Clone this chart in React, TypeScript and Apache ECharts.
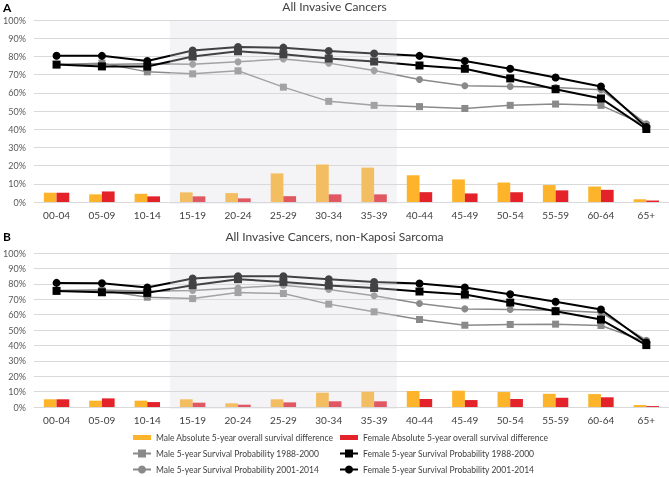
import React, { useEffect, useRef } from "react";
import * as echarts from "echarts";

const ageGroups = ["00-04", "05-09", "10-14", "15-19", "20-24", "25-29", "30-34", "35-39", "40-44", "45-49", "50-54", "55-59", "60-64", "65+"];
const yTicks = [0, 10, 20, 30, 40, 50, 60, 70, 80, 90, 100];

// Panel A: All Invasive Cancers
const maleDiffA = [5.1, 4.2, 4.5, 5.3, 4.9, 15.7, 20.6, 18.9, 14.7, 12.4, 10.7, 9.3, 8.5, 1.5];
const femaleDiffA = [5.1, 5.8, 3.1, 3.1, 2.0, 3.2, 4.2, 4.2, 5.4, 4.7, 5.4, 6.4, 6.7, 0.8];
const male1988A = [75.5, 76.3, 71.5, 70.4, 72.1, 63.1, 55.3, 53.1, 52.4, 51.4, 53.1, 53.8, 53.1, 42.0];
const female1988A = [75.5, 74.5, 74.4, 79.9, 82.8, 81.2, 78.8, 77.2, 75.0, 73.2, 67.9, 62.0, 56.9, 40.1];
const male2001A = [75.6, 75.5, 76.0, 75.7, 77.0, 78.6, 76.3, 72.2, 67.3, 63.9, 63.5, 62.9, 61.7, 43.0];
const female2001A = [80.4, 80.3, 77.5, 83.2, 85.2, 84.8, 83.0, 81.6, 80.3, 77.5, 73.2, 68.4, 63.5, 41.2];

// Panel B: All Invasive Cancers, non-Kaposi Sarcoma
const maleDiffB = [5.0, 4.1, 4.1, 5.0, 2.4, 5.0, 9.3, 9.9, 10.4, 10.6, 9.7, 8.6, 8.4, 1.3];
const femaleDiffB = [5.0, 5.6, 3.2, 2.8, 1.5, 3.0, 3.7, 3.7, 5.2, 4.5, 5.2, 6.0, 6.3, 0.6];
const male1988B = [75.5, 75.8, 71.3, 70.4, 74.3, 73.7, 66.8, 61.8, 56.8, 53.1, 53.6, 53.8, 52.9, 42.3];
const female1988B = [75.4, 74.5, 74.1, 79.1, 83.0, 81.2, 78.9, 77.3, 75.0, 73.0, 67.8, 62.2, 56.8, 40.2];
const male2001B = [75.6, 76.0, 75.2, 75.6, 77.3, 79.1, 76.3, 72.2, 67.2, 63.7, 63.3, 62.9, 61.4, 43.4];
const female2001B = [80.6, 80.4, 77.6, 83.4, 84.9, 84.9, 83.0, 81.2, 80.2, 77.6, 73.2, 68.3, 63.3, 41.9];

// shaded age range (first and last category index) and its value span
const shadedRange = [[3, 100, 7, 0]];

const seriesNames = [
  "Male Absolute 5-year overall survival difference",
  "Female Absolute 5-year overall survival difference",
  "Male 5-year Survival Probability 1988-2000",
  "Female 5-year Survival Probability 1988-2000",
  "Male 5-year Survival Probability 2001-2014",
  "Female 5-year Survival Probability 2001-2014",
];

const FONT = "Lato";
const ORANGE = "#FDB42A";
const RED = "#E3222A";
const GREY = "#8a8a8a";
const BLACK = "#000000";
const BAR_ICON = "path://M0,0H36V10H0Z";

function panelSeries(idx: number, md: number[], fd: number[], m88: number[], f88: number[], m01: number[], f01: number[]) {
  const base = { xAxisIndex: idx, yAxisIndex: idx, z: 2 };
  return [
    { ...base, type: "bar", name: seriesNames[0], data: md, barGap: "0%", barCategoryGap: "44%", itemStyle: { color: ORANGE } },
    { ...base, type: "bar", name: seriesNames[1], data: fd, itemStyle: { color: RED } },
    { ...base, type: "line", name: seriesNames[2], data: m88, symbol: "rect", symbolSize: 7, lineStyle: { color: GREY, width: 1.5 }, itemStyle: { color: GREY } },
    { ...base, type: "line", name: seriesNames[3], data: f88, symbol: "rect", symbolSize: 8, lineStyle: { color: BLACK, width: 2 }, itemStyle: { color: BLACK }, z: 4 },
    { ...base, type: "line", name: seriesNames[4], data: m01, symbol: "circle", symbolSize: 7, lineStyle: { color: GREY, width: 1.5 }, itemStyle: { color: GREY }, z: 3 },
    { ...base, type: "line", name: seriesNames[5], data: f01, symbol: "circle", symbolSize: 8, lineStyle: { color: BLACK, width: 2 }, itemStyle: { color: BLACK }, z: 5 },
    {
      type: "custom",
      xAxisIndex: idx,
      yAxisIndex: idx,
      z: 20,
      silent: true,
      data: shadedRange,
      encode: { x: [0, 2], y: [1, 3] },
      renderItem: (params: any, api: any) => {
        const s = api.coord([api.value(0), api.value(1)]);
        const e = api.coord([api.value(2), api.value(3)]);
        const bw = api.size([1, 0])[0];
        return {
          type: "rect",
          shape: { x: s[0] - bw / 2, y: s[1], width: e[0] - s[0] + bw, height: e[1] - s[1] + 2 },
          style: { fill: "rgba(220,216,224,0.3)" },
        };
      },
    },
  ];
}

export default function App() {
  const ref = useRef<HTMLDivElement>(null);
  useEffect(() => {
    if (!ref.current) return;
    const chart = echarts.init(ref.current, null, { renderer: "svg" });
    const xAxisBase = {
      type: "category",
      data: ageGroups,
      axisLine: { show: false },
      axisTick: { show: false },
      axisLabel: { fontFamily: FONT, fontSize: 10, color: "#404040", margin: 8 },
    };
    const yAxisBase = {
      type: "value",
      min: yTicks[0],
      max: yTicks[yTicks.length - 1],
      interval: 10,
      axisLine: { show: false },
      axisTick: { show: false },
      axisLabel: { fontFamily: FONT, fontSize: 9, color: "#595959", margin: 8, formatter: "{value}%" },
      splitLine: { lineStyle: { color: "#d9d9d9", width: 1 } },
    };
    const legendText = { fontFamily: FONT, fontSize: 8.5, color: "#404040" };
    chart.setOption({
      animation: false,
      title: [
        { text: "All Invasive Cancers", left: "center", top: 0, padding: 0, textStyle: { fontFamily: FONT, fontSize: 12, fontWeight: "normal", color: "#404040" } },
        { text: "All Invasive Cancers, non-Kaposi Sarcoma", left: "center", top: 230, padding: 0, textStyle: { fontFamily: FONT, fontSize: 12, fontWeight: "normal", color: "#404040" } },
        { text: "A", left: 3, top: 1, padding: 0, textStyle: { fontFamily: FONT, fontSize: 12, fontWeight: "bold", color: "#000" } },
        { text: "B", left: 3, top: 230, padding: 0, textStyle: { fontFamily: FONT, fontSize: 12, fontWeight: "bold", color: "#000" } },
      ],
      grid: [
        { left: 27, right: 0, top: 20, height: 182 },
        { left: 27, right: 0, top: 253, height: 154 },
      ],
      xAxis: [
        { ...xAxisBase, gridIndex: 0 },
        { ...xAxisBase, gridIndex: 1 },
      ],
      yAxis: [
        { ...yAxisBase, gridIndex: 0 },
        { ...yAxisBase, gridIndex: 1 },
      ],
      legend: [
        {
          orient: "vertical",
          left: 132,
          top: 433,
          padding: 0,
          itemGap: 7,
          itemWidth: 18,
          itemHeight: 10,
          textStyle: legendText,
          data: [
            { name: seriesNames[0], icon: BAR_ICON },
            { name: seriesNames[2] },
            { name: seriesNames[4] },
          ],
        },
        {
          orient: "vertical",
          left: 339,
          top: 433,
          padding: 0,
          itemGap: 7,
          itemWidth: 18,
          itemHeight: 10,
          textStyle: legendText,
          data: [
            { name: seriesNames[1], icon: BAR_ICON },
            { name: seriesNames[3] },
            { name: seriesNames[5] },
          ],
        },
      ],
      series: [
        ...panelSeries(0, maleDiffA, femaleDiffA, male1988A, female1988A, male2001A, female2001A),
        ...panelSeries(1, maleDiffB, femaleDiffB, male1988B, female1988B, male2001B, female2001B),
      ],
    });
    return () => chart.dispose();
  }, []);
  return <div ref={ref} style={{ position: "fixed", left: 0, top: 0, width: 669, height: 477 }} />;
}
